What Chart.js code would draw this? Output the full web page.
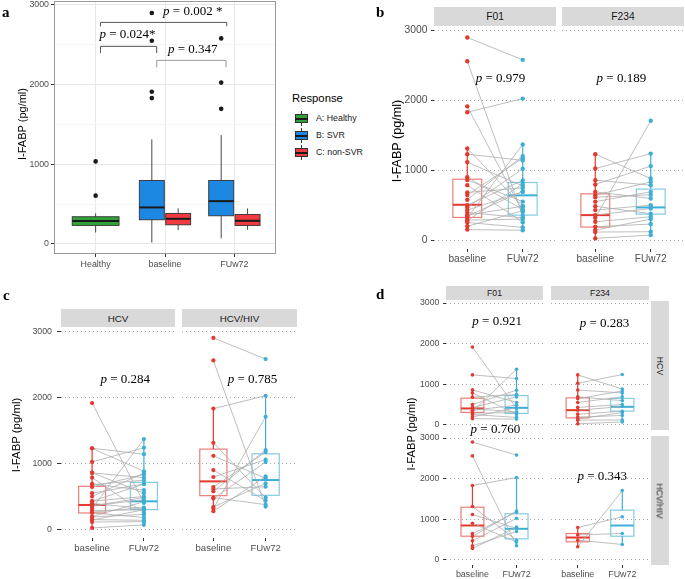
<!DOCTYPE html>
<html>
<head>
<meta charset="utf-8">
<title>I-FABP</title>
<script src="https://cdn.jsdelivr.net/npm/chart.js@4.4.1/dist/chart.umd.min.js"></script>
<style>
  body { margin: 0; background: #fff; }
  #fig { position: relative; width: 685px; height: 579px; overflow: hidden; background: #fff;
         font-family: "Liberation Sans", Arial, sans-serif; }
  #fig canvas { position: absolute; }
  .letter { position: absolute; font: bold 15px/15px "Liberation Serif", "Times New Roman", serif; color: #000; }
  .strip { position: absolute; background: #D9D9D9; color: #1A1A1A; display: flex;
           align-items: center; justify-content: center; white-space: nowrap; }
  .strip.side span { transform: rotate(90deg); }
  .ytitle { position: absolute; white-space: nowrap; color: #000; line-height: 1;
            transform: translate(-50%, -50%) rotate(-90deg); }
  .key { position: absolute; width: 17px; height: 17px; }
  .key .wh { position: absolute; left: 8px; top: 1px; width: 1px; height: 15px; background: #333; }
  .key .bx { position: absolute; left: 2px; top: 4px; width: 13px; height: 9px; box-sizing: border-box; border: 1px solid #333; }
  .key .md { position: absolute; left: 2px; top: 7.5px; width: 13px; height: 2px; background: #1A1A1A; }
  .keylab { position: absolute; font-size: 8.8px; color: #1A1A1A; line-height: 1; }
</style>
</head>
<body>
<div id="fig"></div>
<script>
// categories
const groupsA = ['Healthy', 'baseline', 'FUw72'];
const timepoints = ['baseline', 'FUw72'];
const responses = ['A: Healthy', 'B: SVR', 'C: non-SVR'];

// paired I-FABP (pg/ml), one entry per patient, baseline vs FUw72
const hcvF01Base = [1914, 1230, 860, 786, 681, 500, 429, 395, 357, 319, 286, 252, 197, 150];
const hcvF01Fu = [403, 1140, 550, 255, 747, 853, 688, 319, 484, 1369, 300, 182, 420, 140];
const hcvF234Base = [1229, 1024, 857, 690, 643, 550, 429, 357, 262, 190, 143, 115, 24];
const hcvF234Fu = [881, 1238, 786, 595, 833, 690, 500, 452, 333, 229, 300, 119, 71];
const hivF01Base = [2900, 2560, 1830, 1312, 1116, 900, 644, 578, 468, 342, 277];
const hivF01Fu = [2580, 347, 2025, 483, 774, 437, 1172, 1202, 1021, 699, 804];
const hivF234Base = [320, 795, 614, 484];
const hivF234Fu = [1707, 1059, 648, 377];

// panel a outliers
const healthyOut = [1035, 605];
const svrBaseOut = [2900, 2550, 1910, 1830];
const svrFuOut = [2580, 2025, 1695];

// box stats: [lower whisker, q1, median, q3, upper whisker]
const boxHealthy = [143, 231, 285, 340, 382];
const boxSvr = [[17, 302, 457, 796, 1313], [68, 352, 536, 796, 1365]];
const boxNonSvr = [[172, 239, 314, 382, 445], [177, 231, 289, 369, 445]];
const boxBF01 = [[176, 324, 505, 871, 1319], [133, 357, 640, 824, 1371]];
const boxBF234 = [[24, 186, 357, 662, 1229], [71, 371, 467, 729, 1238]];
const boxCHcv = [[15, 251, 372, 654, 1227], [60, 302, 427, 714, 1357]];
const boxCHiv = [[277, 513, 729, 1217, 1830], [347, 518, 749, 1146, 2025]];
const boxDHcvF01 = [[140, 305, 403, 656, 860], [140, 280, 418, 720, 1369]];
const boxDHcvF234 = [[33, 172, 361, 664, 1238], [91, 337, 443, 649, 877]];
const boxDHivF01 = [[278, 581, 845, 1296, 1838], [335, 517, 764, 1133, 2035]];
const boxDHivF234 = [[320, 443, 549, 648, 795], [377, 581, 845, 1222, 1707]];

// p values
const pA = ['0.024*', '0.002 *', '0.347'];
const pB = ['0.979', '0.189'];
const pC = ['0.284', '0.785'];
const pD = ['0.921', '0.283', '0.760', '0.343'];

const yTicksA = [0, 500, 1000, 1500, 2000, 2500, 3000];
const yTicks = [0, 1000, 2000, 3000];

const SANS = '"Liberation Sans", Arial, sans-serif';
const SERIF = '"Liberation Serif", "Times New Roman", serif';
const TXT = '#4D4D4D';
const RED = '#E4392F', BLUE = '#3DAFD6';
const RED_SOFT = 'rgba(228,57,47,0.65)', BLUE_SOFT = 'rgba(61,175,214,0.65)';
const GREEN_A = '#31A23A', BLUE_A = '#1C88E2', RED_A = '#F03A40';
const LINE = '#ADADAD', DOT = '#A8A8A8';
const Y_MIN = -128, Y_MAX = 3050;
const P = 16;

const fig = document.getElementById('fig');

function addDiv(cls, css, text) {
  const d = document.createElement('div');
  d.className = cls;
  d.style.cssText = css;
  if (text !== undefined) d.textContent = text;
  fig.appendChild(d);
  return d;
}

function canvasAt(x0, y0, w, h) {
  const c = document.createElement('canvas');
  c.width = w; c.height = h;
  c.style.left = x0 + 'px'; c.style.top = y0 + 'px';
  c.style.width = w + 'px'; c.style.height = h + 'px';
  fig.appendChild(c);
  return c;
}

function drawP(ctx, label, cx, cy, size) {
  ctx.save();
  ctx.fillStyle = '#000';
  ctx.textBaseline = 'middle';
  ctx.textAlign = 'left';
  const fi = 'italic ' + size + 'px ' + SERIF, fn = size + 'px ' + SERIF;
  const rest = ' = ' + label;
  ctx.font = fi; const w1 = ctx.measureText('p').width;
  ctx.font = fn; const w2 = ctx.measureText(rest).width;
  const x0 = cx - (w1 + w2) / 2;
  ctx.font = fi; ctx.fillText('p', x0, cy);
  ctx.font = fn; ctx.fillText(rest, x0 + w1, cy);
  ctx.restore();
}

// boxes under the data, brackets / p values / border over it
function overlay(spec) {
  return {
    id: 'overlay',
    beforeDatasetsDraw(chart) {
      const ctx = chart.ctx, x = chart.scales.x, y = chart.scales.y;
      (spec.boxes || []).forEach(b => {
        const [lo, q1, med, q3, hi] = b.stats;
        const xc = x.getPixelForValue(b.x);
        const xl = x.getPixelForValue(b.x - b.w / 2), xr = x.getPixelForValue(b.x + b.w / 2);
        const yt = y.getPixelForValue(q3), yb = y.getPixelForValue(q1), ym = y.getPixelForValue(med);
        ctx.save();
        ctx.lineWidth = b.lw;
        ctx.strokeStyle = b.whisker;
        ctx.beginPath();
        ctx.moveTo(xc, y.getPixelForValue(lo)); ctx.lineTo(xc, yb);
        ctx.moveTo(xc, yt); ctx.lineTo(xc, y.getPixelForValue(hi));
        ctx.stroke();
        if (b.fill) { ctx.fillStyle = b.fill; ctx.fillRect(xl, yt, xr - xl, yb - yt); }
        ctx.strokeStyle = b.stroke;
        ctx.strokeRect(xl, yt, xr - xl, yb - yt);
        ctx.lineWidth = b.medW;
        ctx.strokeStyle = b.median;
        ctx.beginPath(); ctx.moveTo(xl, ym); ctx.lineTo(xr, ym); ctx.stroke();
        ctx.restore();
      });
    },
    afterDatasetsDraw(chart) {
      const ctx = chart.ctx, x = chart.scales.x, y = chart.scales.y;
      (spec.brackets || []).forEach(k => {
        const x1 = x.getPixelForValue(k.x1), x2 = x.getPixelForValue(k.x2);
        const yt = y.getPixelForValue(k.y), yb = y.getPixelForValue(k.y - k.drop);
        ctx.save();
        ctx.strokeStyle = k.color; ctx.lineWidth = 1;
        ctx.beginPath();
        ctx.moveTo(x1, yb); ctx.lineTo(x1, yt); ctx.lineTo(x2, yt); ctx.lineTo(x2, yb);
        ctx.stroke();
        ctx.restore();
      });
      (spec.texts || []).forEach(t => drawP(ctx, t.label, x.getPixelForValue(t.x), y.getPixelForValue(t.y), 13));
      if (spec.border) {
        const a = chart.chartArea;
        ctx.save();
        ctx.strokeStyle = spec.border; ctx.lineWidth = 1;
        ctx.strokeRect(a.left + 0.5, a.top + 0.5, a.right - a.left - 1, a.bottom - a.top - 1);
        ctx.restore();
      }
    }
  };
}

function xAxis(o) {
  return {
    type: 'linear', min: o.min, max: o.max,
    afterBuildTicks: s => { s.ticks = o.labels.map((_, i) => ({ value: i + 1 })); },
    afterFit: s => { s.height = o.xH; s.paddingLeft = 0; s.paddingRight = 0; },
    ticks: { display: o.xH > 0, autoSkip: false, maxRotation: 0, color: TXT, padding: o.pad,
             font: { family: SANS, size: o.fs }, callback: (v, i) => o.labels[i] },
    grid: { display: true, drawOnChartArea: !!o.vgrid, color: o.vgrid || 'rgba(0,0,0,0)',
            drawTicks: o.xH > 0, tickLength: 3, tickColor: '#333' },
    border: { display: false }
  };
}

function yAxis(o) {
  return {
    type: 'linear', min: Y_MIN, max: Y_MAX,
    afterBuildTicks: s => { s.ticks = o.ticks.map(v => ({ value: v })); },
    afterFit: s => { s.width = o.yW; s.paddingTop = 0; s.paddingBottom = 0; },
    ticks: { display: o.yW > 0, autoSkip: false, color: TXT, padding: o.pad,
             font: { family: SANS, size: o.fs }, callback: v => (v % 1000 === 0 ? String(v) : '') },
    grid: { color: o.grid, lineWidth: 1, drawTicks: o.yW > 0, tickLength: o.tick || 3,
            tickColor: o.tickColor || '#333' },
    border: { display: false, dash: o.dash || [] }
  };
}

function baseOptions(spec) {
  return {
    responsive: false, animation: false, devicePixelRatio: 1, events: [],
    layout: { padding: P },
    plugins: { legend: { display: false }, tooltip: { enabled: false } }
  };
}

// one facet of a paired plot
function facet(o) {
  const W = o.w + o.yW + 2 * P, H = o.h + o.xH + 2 * P;
  const cv = canvasAt(o.left - o.yW - P, o.top - P, W, H);
  const lines = [];
  o.base.forEach((v, i) => lines.push({ x: 1, y: v }, { x: 2, y: o.fu[i] }, { x: 1.5, y: null }));
  const bx = (x, stats, col, soft) => ({ x, w: 0.52, stats, fill: null, stroke: soft, whisker: col, median: col, lw: 1.2, medW: 2 });
  const spec = {
    boxes: [bx(1, o.box[0], RED, RED_SOFT), bx(2, o.box[1], BLUE, BLUE_SOFT)],
    texts: [{ label: o.p, x: o.px, y: o.py }]
  };
  const options = baseOptions();
  options.scales = {
    x: xAxis({ labels: timepoints, min: 0.4, max: 2.6, xH: o.xH, fs: o.xfs, pad: o.xpad }),
    y: yAxis({ ticks: yTicks, yW: o.yW, fs: o.yfs, pad: o.ypad, tick: o.tick, grid: DOT, dash: [1, 3] })
  };
  return new Chart(cv, {
    type: 'scatter',
    data: { datasets: [
      { data: o.base.map(v => ({ x: 1, y: v })), backgroundColor: RED, borderWidth: 0, pointRadius: o.r, order: 0 },
      { data: o.fu.map(v => ({ x: 2, y: v })), backgroundColor: BLUE, borderWidth: 0, pointRadius: o.r, order: 0 },
      { type: 'line', data: lines, borderColor: LINE, borderWidth: 0.8, pointRadius: 0, spanGaps: false, order: 1 }
    ] },
    options,
    plugins: [overlay(spec)]
  });
}

// ---------- panel a ----------
(function () {
  const o = { left: 54, top: 1, w: 222, h: 253, yW: 54, xH: 22 };
  const cv = canvasAt(o.left - o.yW - P, o.top - P, o.w + o.yW + 2 * P, o.h + o.xH + 2 * P);
  const bA = (x, w, stats, fill) => ({ x, w, stats, fill, stroke: '#333333', whisker: '#333333', median: '#1A1A1A', lw: 0.9, medW: 2 });
  const spec = {
    boxes: [
      bA(1, 0.675, boxHealthy, GREEN_A),
      bA(1.81, 0.36, boxSvr[0], BLUE_A), bA(2.19, 0.36, boxNonSvr[0], RED_A),
      bA(2.81, 0.36, boxSvr[1], BLUE_A), bA(3.19, 0.36, boxNonSvr[1], RED_A)
    ],
    brackets: [
      { x1: 1.07, x2: 1.88, y: 2480, drop: 84, color: '#555555' },
      { x1: 1.07, x2: 2.89, y: 2781, drop: 50, color: '#555555' },
      { x1: 1.88, x2: 2.88, y: 2304, drop: 88, color: '#999999' }
    ],
    texts: [
      { label: pA[0], x: 1.46, y: 2622 },
      { label: pA[1], x: 2.40, y: 2915 },
      { label: pA[2], x: 2.40, y: 2446 }
    ],
    border: '#9A9A9A'
  };
  const options = baseOptions();
  options.scales = {
    x: xAxis({ labels: groupsA, min: 0.4, max: 3.6, xH: o.xH, fs: 8.9, pad: 2, vgrid: '#E8E8E8' }),
    y: yAxis({
      ticks: yTicksA, yW: o.yW, fs: 8.8, pad: 2,
      grid: c => (c.tick && c.tick.value % 1000 ? '#F4F4F4' : '#E8E8E8'),
      tickColor: c => (c.tick && c.tick.value % 1000 ? 'rgba(0,0,0,0)' : '#333')
    })
  };
  const pts = healthyOut.map(v => ({ x: 1, y: v }))
    .concat(svrBaseOut.map(v => ({ x: 1.81, y: v })))
    .concat(svrFuOut.map(v => ({ x: 2.81, y: v })));
  new Chart(cv, {
    type: 'scatter',
    data: { datasets: [{ data: pts, backgroundColor: '#1A1A1A', borderWidth: 0, pointRadius: 2.3 }] },
    options,
    plugins: [overlay(spec)]
  });
})();

// ---------- panel b ----------
const bCommon = { top: 27, h: 222, xH: 22, xfs: 10.1, xpad: 1, yfs: 10.3, ypad: 3.5, r: 2.2 };
facet(Object.assign({}, bCommon, { left: 434, w: 122, yW: 36,
  base: hcvF01Base.concat(hivF01Base), fu: hcvF01Fu.concat(hivF01Fu), box: boxBF01, p: pB[0], px: 1.6, py: 2314 }));
facet(Object.assign({}, bCommon, { left: 562, w: 122, yW: 0,
  base: hcvF234Base.concat(hivF234Base), fu: hcvF234Fu.concat(hivF234Fu), box: boxBF234, p: pB[1], px: 1.47, py: 2314 }));

// ---------- panel c ----------
const cCommon = { top: 328, h: 210, xH: 22, xfs: 9.6, xpad: 1.5, yfs: 8.8, ypad: 5, tick: 4, r: 2.1 };
facet(Object.assign({}, cCommon, { left: 61, w: 114, yW: 36,
  base: hcvF01Base.concat(hcvF234Base), fu: hcvF01Fu.concat(hcvF234Fu), box: boxCHcv, p: pC[0], px: 1.64, py: 2277 }));
facet(Object.assign({}, cCommon, { left: 182, w: 115, yW: 0,
  base: hivF01Base.concat(hivF234Base), fu: hivF01Fu.concat(hivF234Fu), box: boxCHiv, p: pC[1], px: 1.75, py: 2277 }));

// ---------- panel d ----------
const dCommon = { h: 129, xfs: 8.9, xpad: 1, yfs: 8.7, ypad: 3.7, r: 1.8 };
facet(Object.assign({}, dCommon, { left: 446, top: 301, w: 97, yW: 32, xH: 0,
  base: hcvF01Base, fu: hcvF01Fu, box: boxDHcvF01, p: pD[0], px: 1.56, py: 2555 }));
facet(Object.assign({}, dCommon, { left: 551, top: 301, w: 98, yW: 0, xH: 0,
  base: hcvF234Base, fu: hcvF234Fu, box: boxDHcvF234, p: pD[1], px: 1.6, py: 2506 }));
facet(Object.assign({}, dCommon, { left: 446, top: 436, w: 97, yW: 32, xH: 20,
  base: hivF01Base, fu: hivF01Fu, box: boxDHivF01, p: pD[2], px: 1.52, py: 3209 }));
facet(Object.assign({}, dCommon, { left: 551, top: 436, w: 98, yW: 0, xH: 20,
  base: hivF234Base, fu: hivF234Fu, box: boxDHivF234, p: pD[3], px: 1.55, py: 2059 }));

// ---------- text and strips ----------
addDiv('letter', 'left:2px;top:5px', 'a');
addDiv('letter', 'left:376px;top:5px', 'b');
addDiv('letter', 'left:3px;top:288px', 'c');
addDiv('letter', 'left:376px;top:287px', 'd');

addDiv('ytitle', 'left:22px;top:124px;font-size:11px', 'I-FABP (pg/ml)');
addDiv('ytitle', 'left:397px;top:141px;font-size:12.6px', 'I-FABP (pg/ml)');
addDiv('ytitle', 'left:17px;top:435px;font-size:11.4px', 'I-FABP (pg/ml)');
addDiv('ytitle', 'left:412px;top:434px;font-size:11.2px', 'I-FABP (pg/ml)');

addDiv('strip', 'left:434px;top:7px;width:122px;height:19px;font-size:10.3px', 'F01');
addDiv('strip', 'left:562px;top:7px;width:122px;height:19px;font-size:10.3px', 'F234');
addDiv('strip', 'left:61px;top:309px;width:114px;height:18px;font-size:9.8px', 'HCV');
addDiv('strip', 'left:182px;top:309px;width:115px;height:18px;font-size:9.8px', 'HCV/HIV');
addDiv('strip', 'left:446px;top:286px;width:97px;height:14px;font-size:8.7px', 'F01');
addDiv('strip', 'left:551px;top:286px;width:98px;height:14px;font-size:8.7px', 'F234');
addDiv('strip side', 'left:651px;top:301px;width:18px;height:129px;font-size:8.7px').innerHTML = '<span>HCV</span>';
addDiv('strip side', 'left:651px;top:436px;width:18px;height:129px;font-size:8.7px').innerHTML = '<span>HCV/HIV</span>';

// legend of panel a
addDiv('keylab', 'left:292px;top:93px;font-size:11.3px;color:#000', 'Response');
[GREEN_A, BLUE_A, RED_A].forEach((col, i) => {
  const top = 110 + i * 17;
  const k = addDiv('key', 'left:293px;top:' + top + 'px');
  k.innerHTML = '<div class="wh"></div><div class="bx" style="background:' + col + '"></div><div class="md"></div>';
  addDiv('keylab', 'left:316px;top:' + (top + 4) + 'px', responses[i]);
});
</script>
</body>
</html>
